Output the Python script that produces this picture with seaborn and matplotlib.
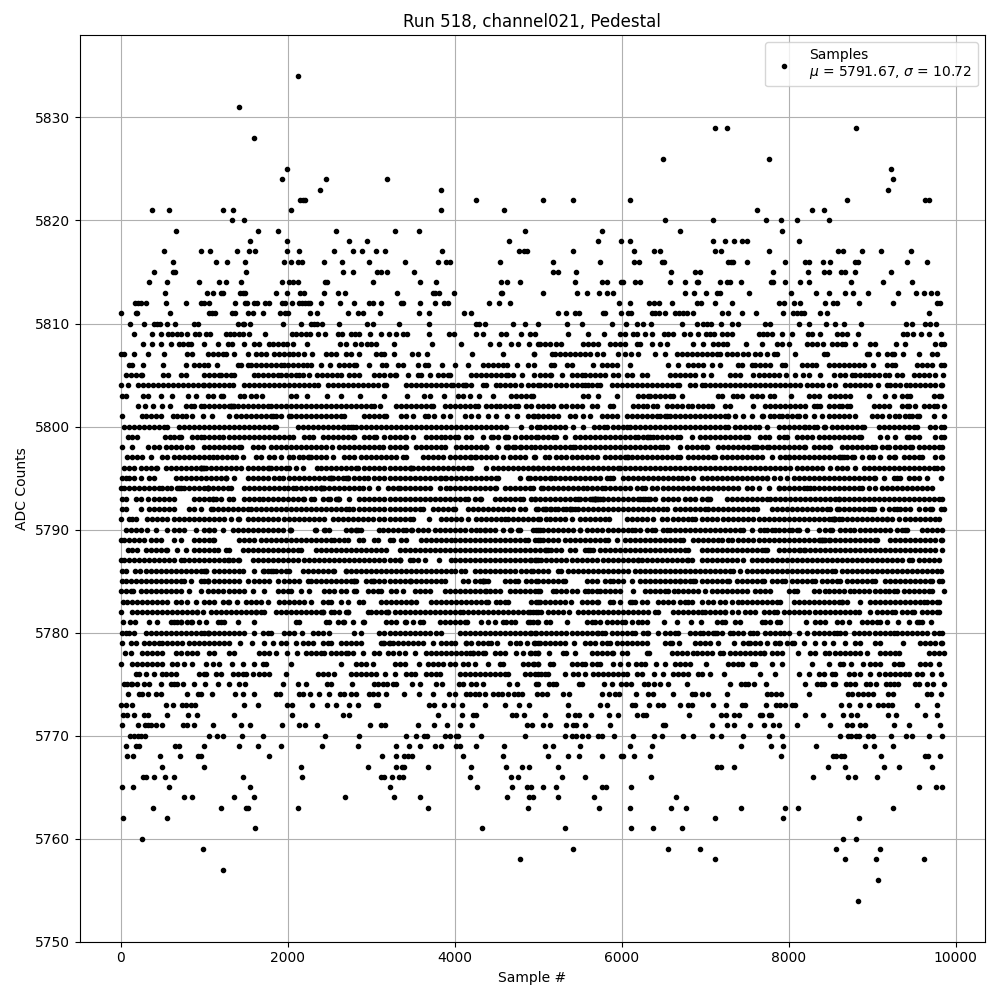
import matplotlib
matplotlib.use("Agg")
import matplotlib.pyplot as plt
import pandas as pd
import seaborn as sns

# Sample numbers, one list per ADC level
adc_5834 = [2120]
adc_5831 = [1412]
adc_5829 = [7124, 7268, 8804]
adc_5828 = [1592]
adc_5826 = [6500, 7760]
adc_5825 = [1988, 9224]
adc_5824 = [1928, 2456, 3188, 9248]
adc_5823 = [2384, 3836, 9188]
adc_5822 = [2144, 2180, 2208, 4256, 5060, 5420, 6104, 8696, 9632, 9680]
adc_5821 = [380, 584, 1220, 1340, 2036, 3836, 4592, 7616, 8276, 8420]
adc_5820 = [1328, 1472, 6524, 7100, 7724, 7904, 8096, 8480]
adc_5819 = [668, 1640, 1880, 2576, 3284, 3572, 4844, 5768, 6704, 7916]
adc_5818 = [1544, 1988, 2732, 2948, 4652, 5720, 5996, 6104, 7100, 7244, 7352, 7448, 7508, 8120]
adc_5817 = [524, 968, 1064, 1388, 1532, 1604, 1988, 2132, 2552, 2780, 2888, 3056, 3164, 3848, 4772, 4828, 4868,
            5420, 6152, 6392, 6464, 7124, 7196, 7760, 8588, 8648, 8876, 9104, 9464]
adc_5816 = [632, 1136, 1268, 1484, 1952, 2036, 2120, 2168, 2432, 2648, 2972, 3404, 3800, 3896, 3944, 4544,
            5180, 5744, 6152, 6212, 6488, 6512, 7280, 7316, 7340, 7508, 7952, 8192, 8240, 8408, 8492, 8792, 8828, 9416, 9656]
adc_5815 = [404, 632, 652, 1496, 2660, 2780, 3068, 3116, 3188, 3512, 5180, 5240, 5456, 6596, 6884, 6944, 7808, 8228,
            8420, 8480, 8624, 8672, 8792, 9224]
adc_5814 = [344, 560, 944, 1172, 1256, 1436, 1928, 2012, 2060, 2120, 2444, 2468, 3020, 3584, 3776, 4556, 4628, 4784,
            5444, 5768, 5828, 5996, 6020, 6164, 6224, 6584, 6764, 6908, 6920, 7184, 7268, 7304, 7436, 7784, 7808, 7952,
            8132, 8240, 8744, 9128, 9476]
adc_5813 = [536, 1028, 1100, 1196, 1228, 1424, 1460, 1484, 1856, 1988, 2144, 2192, 2432, 2600, 2684, 3308, 3740, 3764,
            3812, 3992, 4556, 4568, 5060, 5468, 5588, 5732, 5828, 5900, 6764, 6872, 7016, 7148, 7184, 7532, 8024, 8324,
            8480, 8672, 8768, 8948, 9308, 9524, 9620, 9704, 9776]
adc_5812 = [176, 212, 248, 308, 548, 788, 968, 992, 1052, 1364, 1484, 1508, 1592, 1628, 1724, 1772, 1928, 1964, 2048,
            2132, 2168, 2204, 2240, 2264, 2396, 2624, 2792, 2972, 3020, 3116, 3356, 3380, 3584, 3764, 3872, 3920, 4412,
            4532, 4664, 5972, 6104, 6332, 6392, 6452, 6608, 6908, 6956, 7124, 7328, 7880, 7940, 8060, 8132, 8432, 8528,
            8576, 8840, 9248, 9776, 9812]
adc_5811 = [0, 188, 200, 596, 1052, 1088, 1124, 1328, 1364, 1520, 1580, 1700, 1904, 1964, 2000, 2264, 2348, 2720, 2840,
            2900, 3104, 3572, 3692, 4112, 4196, 5240, 5336, 5444, 5492, 5780, 5804, 5996, 6080, 6116, 6368, 6404, 6452,
            6524, 6644, 6692, 6740, 6788, 6860, 7208, 7280, 7448, 7604, 7928, 8048, 8096, 8144, 8180, 8372, 8456, 9680]
adc_5810 = [116, 284, 404, 440, 476, 560, 656, 884, 932, 1400, 1460, 1472, 1544, 1940, 2156, 2276, 2312, 2348, 2408,
            2612, 2948, 3020, 3332, 3692, 4256, 4292, 4364, 4700, 4844, 5000, 5348, 5528, 5888, 6056, 6188, 6260, 6356,
            6728, 6908, 6980, 7028, 7076, 7196, 7328, 7400, 7712, 7772, 8120, 8240, 8444, 8552, 8660, 8864, 9404, 9476,
            9632, 9692, 9764]
adc_5809 = [160, 380, 488, 572, 620, 680, 728, 800, 888, 940, 1020, 1068, 1260, 1308, 1360, 1420, 1460, 1540, 1728, 2052,
            2100, 2160, 2220, 2268, 2360, 2448, 2600, 2652, 2760, 2812, 2852, 2984, 3120, 3212, 3300, 3380, 3428, 3692,
            3932, 3988, 4260, 4340, 4552, 4612, 4792, 4900, 4960, 5360, 5600, 5788, 5980, 6040, 6132, 6188, 6280, 6360,
            6508, 6560, 6620, 6752, 6820, 6920, 7008, 7060, 7108, 7200, 7260, 7320, 7640, 7688, 7740, 7800, 7920, 8040,
            8228, 8280, 8380, 8580, 8640, 8700, 8828, 9372, 9420, 9488, 9588, 9688, 9828]
adc_5808 = [272, 380, 480, 600, 700, 752, 808, 848, 992, 1160, 1280, 1332, 1472, 1600, 1660, 1772, 1830, 1880, 1940, 1990,
            2060, 2228, 2628, 2700, 2812, 2880, 2948, 3000, 3060, 3272, 3728, 4080, 4428, 4528, 4680, 4760, 4892, 5000,
            5020, 5080, 5140, 5220, 5280, 5540, 5600, 5660, 5720, 5860, 5920, 5980, 6040, 6180, 6220, 6360, 6460, 6540,
            6860, 6980, 7100, 7160, 7220, 7260, 7488, 7680, 7860, 7920, 8000, 8220, 8280, 8340, 8412, 8520, 8580, 8640,
            8680, 8800, 8980, 9040, 9292, 9400, 9760, 9820, 9860]
adc_5807 = [0, 40, 160, 332, 524, 800, 860, 1040, 1100, 1160, 1220, 1260, 1360, 1520, 1620, 1680, 1740, 1840, 1900, 1960,
            2020, 2070, 2120, 2200, 2292, 2460, 2520, 2580, 2700, 2760, 2852, 3060, 3120, 3160, 3272, 3492, 3560, 3668,
            4208, 4580, 4952, 4952, 5168, 5200, 5260, 5320, 5380, 5440, 5500, 5560, 5620, 5700, 5780, 5960, 6040, 6108,
            6200, 6400, 6520, 6660, 6720, 6780, 6840, 6900, 6960, 7020, 7080, 7140, 7180, 7260, 7320, 7380, 7460, 7520,
            7600, 7660, 7740, 7820, 7860, 8072, 8420, 8460, 8940, 8960, 9068, 9180, 9240, 9268, 9368, 9560, 9720, 9780]
adc_5806 = [100, 140, 272, 512, 780, 880, 940, 1000, 1040, 1148, 1400, 1440, 1520, 1560, 1620, 1680, 1740, 1800, 1860, 1920,
            1960, 2000, 2060, 2120, 2180, 2228, 2280, 2400, 2512, 2620, 2680, 2740, 2800, 2820, 2972, 3132, 3180, 3320,
            3380, 3560, 3640, 3680, 3848, 4004, 4160, 4340, 4400, 4460, 4520, 4580, 4628, 4748, 4880, 4952, 5188, 5160,
            5350, 5400, 5660, 5760, 5830, 5880, 5940, 6104, 6560, 6680, 6800, 6860, 6920, 6980, 7088, 7180, 7400, 7440,
            7560, 7600, 7660, 7720, 7780, 7920, 7960, 8160, 8220, 8280, 8332, 8480, 8540, 8600, 8660, 8720, 8780, 8840,
            8900, 9008, 9180, 9240, 9280, 9540, 9600, 9660, 9720, 9820, 9860]
adc_5805 = [68, 120, 180, 240, 260, 508, 568, 720, 780, 1000, 1060, 1120, 1180, 1200, 1260, 1320, 1360, 1592, 1640, 1700,
            1760, 1820, 1880, 1920, 1980, 2040, 2100, 2140, 2180, 2252, 2352, 2410, 2470, 2530, 2590, 2640, 2740, 2800,
            2860, 3040, 3100, 3160, 3220, 3280, 3300, 3440, 3560, 3600, 3700, 3800, 3860, 3920, 3940, 4200, 4260, 4320,
            4380, 4440, 4500, 4560, 4620, 4640, 4700, 4812, 4950, 5020, 5080, 5140, 5160, 5288, 5400, 5460, 5520, 5560,
            5620, 5680, 5740, 5800, 5900, 5960, 6060, 6120, 6240, 6300, 6580, 6640, 6700, 6760, 6820, 6880, 6980, 7072,
            7300, 7360, 7420, 7580, 7640, 7700, 7760, 7820, 7880, 7972, 8072, 8172, 8240, 8380, 8540, 8620, 8680, 8760,
            8800, 8860, 8920, 8960, 9020, 9080, 9160, 9200, 9300, 9360, 9500, 9560, 9620, 9680, 9760, 9848]
adc_5804 = [8, 92, 212, 268, 328, 388, 448, 508, 568, 628, 688, 748, 808, 868, 928, 988, 1000, 1060, 1060, 1120, 1180, 1240,
            1300, 1340, 1480, 1540, 1600, 1660, 1720, 1780, 1840, 1900, 1960, 2020, 2080, 2140, 2200, 2260, 2320, 2360,
            2480, 2540, 2600, 2660, 2720, 2780, 2840, 2900, 2960, 3020, 3080, 3160, 3180, 3420, 3480, 3540, 3600, 3660,
            3720, 3780, 3840, 3900, 3960, 3980, 4140, 4200, 4040, 4100, 4120, 4340, 4380, 4500, 4540, 4600, 4660, 4720,
            4800, 4880, 4940, 5000, 5020, 5080, 5140, 5220, 5280, 5340, 5400, 5460, 5520, 5560, 5600, 5640, 5700, 5740,
            5880, 5940, 6000, 6060, 6120, 6180, 6240, 6300, 6360, 6420, 6480, 6540, 6600, 6660, 6692, 6820, 6880, 6960,
            7000, 7060, 7120, 7180, 7240, 7300, 7360, 7420, 7480, 7540, 7600, 7660, 7720, 7780, 7840, 7900, 7960, 8020,
            8080, 8140, 8220, 8280, 8340, 8400, 8480, 8560, 8680, 8740, 8800, 8860, 8920, 8980, 9068, 9180, 9220, 9280,
            9340, 9412, 9460, 9520, 9580, 9640, 9700, 9760, 9820, 9840]
adc_5803 = [20, 60, 268, 332, 488, 612, 812, 908, 1040, 1100, 1200, 1228, 1428, 1480, 1560, 1620, 1692, 2040, 2100, 2228,
            2468, 2640, 2872, 3160, 3428, 3628, 3700, 3872, 4040, 4100, 4180, 4292, 4464, 4680, 4740, 4800, 4860, 4920,
            4940, 5540, 5600, 5720, 5948, 6200, 6260, 6320, 6340, 6400, 6460, 6520, 6580, 6612, 6728, 7160, 7200, 7330,
            7380, 7440, 7560, 7620, 7680, 7780, 7820, 8028, 8240, 8300, 8360, 8500, 8560, 8620, 8680, 8740, 8960, 9152,
            9260, 9360, 9420, 9460, 9748, 9800, 9820]
adc_5802 = [208, 292, 392, 500, 592, 788, 840, 880, 960, 1000, 1060, 1120, 1180, 1240, 1320, 1360, 1300, 1320, 1340, 1400,
            1460, 1520, 1580, 1640, 1700, 1760, 1800, 1860, 1920, 1980, 2040, 2100, 2160, 2220, 2280, 2340, 2400, 2460,
            2520, 2580, 2640, 2700, 2760, 2820, 2880, 2940, 3000, 3040, 3108, 3292, 3360, 3420, 3480, 3540, 3600, 3660,
            3720, 3740, 3880, 3940, 4000, 4060, 4120, 4180, 4240, 4280, 4380, 4440, 4500, 4540, 4600, 4660, 4720, 4760,
            4860, 4920, 5000, 5060, 5120, 5180, 5280, 5340, 5400, 5460, 5520, 5640, 5700, 5860, 5900, 6140, 6200, 6260,
            6300, 6380, 6420, 6540, 6600, 6660, 6720, 6800, 6840, 6920, 6980, 7040, 7080, 7240, 7300, 7572, 7720, 7780,
            7840, 7900, 7960, 8020, 8080, 8140, 8200, 8300, 8340, 8380, 8480, 8540, 8600, 8640, 8700, 8740, 9020, 9080,
            9140, 9200, 9360, 9420, 9440, 9520, 9620, 9680, 9740, 9780, 9860]
adc_5801 = [20, 260, 300, 360, 428, 488, 628, 680, 740, 780, 860, 980, 1092, 1292, 1380, 1440, 1500, 1560, 1620, 1680, 1740,
            1800, 1820, 1860, 1920, 2012, 2040, 2100, 2160, 2220, 2280, 2340, 2400, 2460, 2520, 2580, 2640, 2680, 2920,
            2980, 3040, 3100, 3160, 3180, 3360, 3420, 3500, 3640, 3680, 3752, 3860, 3940, 4120, 4200, 4280, 4400, 4500,
            4628, 4748, 4880, 4940, 5000, 4950, 5000, 5060, 5120, 5180, 5240, 5380, 5440, 5540, 5620, 5760, 5820, 5880,
            5940, 6060, 6120, 6180, 6240, 6300, 6360, 6420, 6460, 6520, 6540, 6580, 6640, 6700, 6760, 6820, 6880, 6940,
            7000, 7060, 7120, 7180, 7240, 7280, 7280, 7360, 7460, 7560, 7680, 7690, 7780, 7830, 7880, 7920, 7980, 8040,
            8100, 8120, 8200, 8300, 8400, 8480, 8540, 8600, 8660, 8720, 8790, 9000, 9060, 9120, 9200, 9280, 9320, 9400,
            9440, 9480, 9540, 9560, 9740, 9860]
adc_5800 = [40, 100, 160, 220, 280, 340, 400, 460, 520, 560, 700, 760, 820, 880, 940, 1000, 1060, 1120, 1180, 1240, 1300, 1360,
            1420, 1480, 1540, 1600, 1660, 1720, 1780, 1840, 1860, 2120, 2180, 2240, 2300, 2360, 2420, 2480, 2540, 2660,
            2720, 2680, 2600, 2780, 2760, 2820, 2880, 2940, 3000, 3060, 3120, 3180, 3240, 3300, 3360, 3420, 3480, 3540,
            3600, 3660, 3720, 3780, 3840, 3900, 3960, 4020, 4080, 4140, 4200, 4260, 4320, 4380, 4440, 4500, 4560, 4620,
            4800, 4920, 4990, 5020, 5080, 5140, 5200, 5260, 5320, 5420, 5540, 5670, 5730, 5790, 5820, 5900, 5960, 6020,
            6060, 6100, 6160, 6220, 6280, 6340, 6400, 6460, 6520, 6580, 6640, 6700, 6760, 6820, 6880, 6940, 7000, 7060,
            7120, 7180, 7240, 7280, 7360, 7420, 7480, 7540, 7600, 7640, 7740, 7880, 7940, 8000, 8060, 8120, 8180, 8240,
            8300, 8200, 8340, 8420, 8440, 8520, 8580, 8640, 8700, 8760, 8820, 8880, 8900, 9080, 9140, 9200, 9260, 9320,
            9380, 9440, 9500, 9540, 9700, 9760, 9820, 9860]
adc_5799 = [92, 140, 200, 532, 588, 640, 700, 720, 860, 920, 960, 1000, 1060, 1120, 1180, 1228, 1300, 1360, 1420, 1480, 1540,
            1600, 1660, 1720, 1780, 1840, 1900, 1960, 2020, 2060, 2200, 2260, 2300, 2420, 2480, 2540, 2600, 2660, 2720,
            2780, 2800, 2920, 2980, 3040, 3060, 3160, 3220, 3280, 3340, 3400, 3420, 3500, 3660, 3720, 3780, 3840, 3880,
            3940, 4000, 4040, 4140, 4200, 4340, 4460, 4440, 4520, 4600, 4640, 4620, 4720, 4800, 4860, 4920, 4980, 5000,
            5060, 5120, 5180, 5220, 5328, 5440, 5500, 5560, 5620, 5680, 5740, 5800, 5860, 5920, 5980, 6040, 6100, 6160,
            6200, 6260, 6300, 6320, 6340, 6380, 6420, 6480, 6540, 6600, 6660, 6700, 6848, 6940, 7000, 7060, 7120, 7180,
            7240, 7300, 7360, 7420, 7480, 7520, 7660, 7720, 7760, 7880, 7940, 7980, 8100, 8160, 8220, 8280, 8360, 8420,
            8480, 8540, 8600, 8660, 8720, 8780, 8840, 8872, 9100, 9180, 9280, 9420, 9440, 9500, 9560, 9760, 9820, 9860]
adc_5798 = [20, 132, 332, 400, 460, 540, 600, 660, 720, 800, 860, 1000, 1060, 1120, 1180, 1240, 1300, 1360, 1420, 1440,
            1590, 1650, 1700, 1800, 1860, 1920, 1980, 2040, 2100, 2160, 2220, 2280, 2340, 2400, 2460, 2528, 2620, 2680,
            2740, 2800, 2860, 2920, 2980, 3040, 3100, 3140, 3220, 3280, 3340, 3400, 3420, 3540, 3600, 3660, 3720, 3780,
            3840, 3880, 4020, 4080, 4140, 4200, 4260, 4320, 4380, 4380, 4380, 4520, 4640, 4620, 4640, 4700, 4720, 4780,
            4800, 4860, 4920, 4960, 5020, 5080, 5140, 5200, 5260, 5320, 5380, 5420, 5440, 5500, 5560, 5620, 5680, 5740,
            5800, 5860, 5920, 5980, 6040, 6100, 6160, 6220, 6280, 6340, 6400, 6460, 6500, 6548, 6700, 6780, 6840, 6900,
            6960, 7020, 7008, 7160, 7220, 7280, 7340, 7400, 7460, 7520, 7580, 7600, 7620, 7680, 7740, 7760, 7820, 7880,
            7940, 8000, 8060, 8120, 8180, 8200, 8300, 8360, 8420, 8480, 8500, 8640, 8700, 8760, 8820, 8880, 8940, 9000,
            9040, 9120, 9180, 9200, 9280, 9340, 9400, 9460, 9480, 9560, 9620, 9680, 9740, 9800, 9840]
adc_5797 = [80, 140, 200, 260, 360, 500, 560, 640, 700, 760, 820, 880, 940, 1000, 1060, 1100, 1150, 1210, 1270, 1330, 1380,
            1468, 1620, 1680, 1780, 1840, 1916, 2012, 2070, 2130, 2180, 2240, 2260, 2280, 2340, 2400, 2460, 2548, 2680,
            2740, 2800, 2880, 2940, 3000, 3060, 3120, 3180, 3240, 3300, 3380, 3420, 3620, 3680, 3740, 3800, 3860, 3940,
            4000, 4060, 4120, 4180, 4240, 4200, 4260, 4320, 4380, 4440, 4500, 4580, 4660, 4720, 4780, 4840, 4952, 4960,
            5080, 5130, 5220, 5280, 5340, 5400, 5460, 5520, 5580, 5640, 5700, 5800, 5860, 5920, 5980, 6040, 6060, 6080,
            6120, 6180, 6240, 6300, 6360, 6420, 6480, 6540, 6600, 6660, 6700, 6800, 6860, 6920, 6980, 7040, 7100, 7120,
            7200, 7260, 7320, 7380, 7440, 7500, 7560, 7620, 7680, 7800, 7900, 7960, 8000, 8000, 8060, 8120, 8180, 8240,
            8300, 8360, 8420, 8480, 8540, 8600, 8660, 8620, 8640, 8700, 8760, 8780, 8880, 8960, 9012, 9100, 9200, 9260,
            9280, 9380, 9440, 9500, 9560, 9600, 9760, 9820, 9840]
adc_5796 = [40, 100, 160, 240, 300, 360, 420, 440, 540, 600, 660, 720, 780, 840, 900, 960, 1000, 980, 960, 960, 1020, 1080,
            1140, 1200, 1260, 1320, 1380, 1440, 1520, 1580, 1640, 1700, 1760, 1780, 1800, 1860, 1920, 1980, 2020, 2100,
            2188, 2348, 2400, 2460, 2520, 2580, 2640, 2700, 2760, 2820, 2840, 2920, 2980, 3040, 3100, 3160, 3220, 3280,
            3340, 3400, 3460, 3480, 3480, 3500, 3560, 3620, 3680, 3740, 3800, 3860, 3920, 3980, 4040, 4100, 4160, 4200,
            4380, 4460, 4520, 4580, 4640, 4700, 4760, 4820, 4880, 4940, 5000, 4940, 5000, 5060, 5120, 5180, 5240, 5300,
            5360, 5420, 5480, 5540, 5600, 5660, 5720, 5780, 5840, 5900, 5960, 5980, 6040, 6100, 6160, 6220, 6280, 6340,
            6400, 6460, 6520, 6580, 6640, 6700, 6760, 6820, 6880, 6940, 7000, 7060, 7120, 7180, 7240, 7300, 7360, 7420,
            7480, 7540, 7600, 7660, 7720, 7780, 7840, 7900, 7960, 8020, 8100, 8160, 8220, 8280, 8340, 8400, 8500, 8580,
            8640, 8700, 8800, 8900, 8960, 9020, 9080, 9140, 9200, 9260, 9320, 9380, 9440, 9500, 9560, 9620, 9680, 9740,
            9780, 9840]
adc_5795 = [20, 60, 100, 160, 248, 340, 400, 660, 720, 780, 840, 900, 960, 1020, 1080, 1140, 1200, 1260, 1260, 1260, 1360,
            1520, 1580, 1640, 1700, 1760, 1840, 1900, 1940, 2020, 2080, 2140, 2200, 2260, 2320, 2380, 2440, 2500, 2520,
            2520, 2540, 2600, 2660, 2700, 2720, 2720, 2800, 2860, 2920, 2960, 3040, 3100, 3160, 3220, 3280, 3340, 3400,
            3460, 3520, 3580, 3640, 3700, 3760, 3820, 3840, 3880, 3900, 3960, 4020, 4080, 4140, 4200, 4260, 4320, 4380,
            4440, 4500, 4520, 4780, 4880, 4900, 4960, 5020, 5080, 5140, 5200, 5160, 5260, 5320, 5380, 5440, 5500, 5560,
            5620, 5680, 5740, 5820, 5860, 5900, 6020, 6080, 6140, 6200, 6260, 6320, 6380, 6440, 6500, 6560, 6620, 6680,
            6720, 6780, 6860, 6960, 7020, 7080, 7140, 7200, 7260, 7320, 7380, 7440, 7500, 7560, 7620, 7680, 7740, 7740,
            7820, 7900, 7980, 8060, 8120, 8180, 8240, 8300, 8360, 8420, 8480, 8540, 8600, 8660, 8720, 8780, 8840, 8900,
            8960, 9020, 9040, 9140, 9260, 9300, 9340, 9440, 9500, 9560, 9660, 9820]
adc_5794 = [0, 40, 100, 160, 220, 280, 340, 400, 460, 500, 560, 600, 680, 700, 720, 760, 820, 880, 940, 1000, 1040, 1040,
            1040, 1040, 1100, 1160, 1220, 1280, 1320, 1480, 1540, 1600, 1660, 1720, 1780, 1840, 1900, 1960, 2000, 2060, 2100,
            2160, 2220, 2280, 2340, 2400, 2400, 2400, 2420, 2440, 2500, 2560, 2620, 2680, 2740, 2800, 2860, 2900, 2980,
            3080, 3200, 3260, 3320, 3340, 3400, 3460, 3520, 3580, 3640, 3700, 3820, 3900, 3940, 4000, 4060, 4120, 4180,
            4240, 4300, 4360, 4420, 4480, 4500, 4600, 4660, 4720, 4780, 4840, 4900, 4940, 5040, 5060, 5120, 5180, 5240,
            5300, 5360, 5420, 5480, 5540, 5580, 5640, 5700, 5760, 5800, 5860, 5920, 5980, 6040, 6100, 6180, 6240, 6280,
            6360, 6420, 6500, 6560, 6620, 6680, 6740, 6800, 6860, 6920, 6980, 7040, 7100, 7160, 7220, 7280, 7340, 7400,
            7500, 7560, 7640, 7760, 7880, 7880, 7940, 8000, 8060, 8120, 8180, 8220, 8260, 8300, 8360, 8420, 8480, 8540,
            8600, 8660, 8720, 8780, 8840, 8880, 8960, 9040, 9120, 9180, 9240, 9300, 9360, 9420, 9480, 9540, 9600, 9660,
            9720]
adc_5793 = [20, 60, 180, 240, 328, 400, 460, 520, 580, 640, 880, 940, 1000, 1060, 1100, 1100, 1140, 1200, 1300, 1340, 1480,
            1540, 1600, 1660, 1700, 1760, 1820, 1880, 1940, 2000, 2060, 2120, 2180, 2200, 2280, 2320, 2420, 2480, 2508, 2580,
            2600, 2600, 2620, 2730, 2860, 2920, 2980, 3040, 3100, 3160, 3220, 3280, 3340, 3400, 3460, 3520, 3580, 3640,
            3700, 3760, 3820, 3880, 3940, 4000, 4060, 4120, 4160, 4240, 4300, 4320, 4480, 4540, 4600, 4660, 4720, 4780,
            4820, 4920, 4960, 4960, 5020, 5080, 5140, 5200, 5260, 5320, 5380, 5440, 5480, 5500, 5560, 5620, 5680, 5640,
            5680, 5720, 5680, 5680, 5700, 5780, 5660, 5740, 5780, 5840, 5900, 5960, 6020, 6080, 6140, 6200, 6260, 6220,
            6280, 6340, 6400, 6320, 6500, 6560, 6620, 6680, 6760, 6820, 6880, 6960, 7020, 7040, 7060, 7260, 7320, 7380,
            7440, 7500, 7560, 7620, 7680, 7740, 7780, 7840, 7900, 7960, 8020, 8080, 8140, 8200, 8260, 8320, 8380, 8440,
            8500, 8560, 8600, 8600, 8660, 8720, 8780, 8840, 8900, 8960, 9020, 9080, 9140, 9200, 9260, 9320, 9380, 9440,
            9500, 9560, 9620, 9680, 9740, 9800, 9840]
adc_5792 = [20, 60, 240, 340, 400, 460, 520, 580, 640, 820, 880, 960, 1080, 1100, 1160, 1220, 1280, 1340, 1400, 1460, 1520,
            1560, 1620, 1680, 1740, 1800, 1860, 1920, 1980, 2040, 2100, 2160, 2220, 2280, 2340, 2400, 2460, 2520, 2580,
            2640, 2700, 2740, 2780, 2860, 2920, 2980, 3040, 3100, 3160, 3220, 3280, 3340, 3400, 3460, 3520, 3580, 3620,
            3740, 3800, 3860, 3920, 3980, 4000, 4160, 4220, 4280, 4340, 4400, 4460, 4520, 4580, 4640, 4700, 4780, 4848,
            4980, 5000, 5060, 5080, 5140, 5100, 5160, 5200, 5240, 5300, 5340, 5380, 5440, 5380, 5400, 5480, 5540, 5600,
            5660, 5720, 5780, 5840, 5900, 5960, 6020, 6080, 6140, 6200, 6260, 6320, 6380, 6440, 6500, 6540, 6640, 6700,
            6760, 6820, 6880, 6940, 7000, 7040, 7100, 7160, 7220, 7280, 7340, 7400, 7460, 7520, 7580, 7620, 7800, 7860,
            7920, 7980, 8040, 8100, 8160, 8220, 8280, 8340, 8400, 8460, 8500, 8580, 8600, 8660, 8720, 8780, 8840, 8900,
            8960, 9020, 9000, 9120, 9200, 9260, 9300, 9340, 9400, 9460, 9560, 9640, 9700, 9720, 9820, 9860]
adc_5791 = [8, 100, 140, 180, 320, 380, 440, 500, 560, 640, 700, 760, 820, 880, 940, 1000, 1060, 1120, 1180, 1240, 1320,
            1400, 1420, 1520, 1580, 1640, 1700, 1760, 1820, 1880, 1960, 2020, 2080, 2140, 2200, 2260, 2320, 2380, 2440,
            2540, 2600, 2660, 2720, 2780, 2840, 2900, 2960, 3020, 3100, 3160, 3220, 3280, 3340, 3400, 3460, 3500, 3692,
            3840, 3900, 3960, 4020, 4080, 4160, 4260, 4320, 4380, 4440, 4500, 4560, 4600, 4640, 4700, 4760, 4820, 4880,
            4940, 5000, 5020, 5090, 5140, 5200, 5260, 5320, 5400, 5500, 5560, 5620, 5680, 5740, 5800, 5848, 6060, 6120,
            6180, 6240, 6300, 6380, 6480, 6540, 6620, 6680, 6740, 6800, 6840, 6880, 6960, 7020, 7080, 7140, 7220, 7280,
            7340, 7400, 7460, 7520, 7580, 7640, 7700, 7760, 7820, 7880, 7940, 8000, 8060, 8120, 8180, 8240, 8300, 8360,
            8420, 8480, 8540, 8540, 8560, 8520, 8540, 8600, 8640, 8700, 8760, 8820, 8880, 8940, 9000, 9060, 9120, 9180,
            9180, 9240, 9320, 9400, 9460, 9520, 9580, 9640, 9700, 9760, 9800]
adc_5790 = [60, 120, 180, 240, 320, 420, 560, 640, 700, 760, 900, 1000, 1060, 1060, 1120, 1220, 1340, 1400, 1460, 1520, 1580,
            1640, 1700, 1760, 1820, 1880, 1940, 2030, 2030, 2040, 2340, 2440, 2450, 2500, 2332, 2700, 2760, 2820, 2880,
            2760, 2820, 2840, 3100, 3140, 3200, 3260, 3320, 3380, 3420, 3480, 3488, 3560, 3620, 3680, 3760, 3820, 3880,
            3940, 4000, 4060, 4120, 4200, 4260, 4300, 4360, 4420, 4480, 4360, 4580, 4680, 4660, 4760, 4780, 4940, 4980,
            5000, 5020, 5060, 5120, 5180, 5240, 5300, 5360, 5420, 5500, 5500, 5580, 5640, 5700, 5760, 5840, 5900, 5960,
            6020, 6080, 6120, 6160, 6220, 6300, 6360, 6400, 6500, 6540, 6580, 6640, 6700, 6760, 6820, 6880, 6940, 7000,
            7060, 7120, 7180, 7240, 7300, 7360, 7420, 7460, 7560, 7660, 7700, 7740, 7800, 7840, 7880, 7940, 8000, 8040,
            8100, 8120, 8220, 8360, 8440, 8500, 8520, 8620, 8680, 8740, 8780, 8860, 8920, 8980, 9040, 9100, 9160, 9220,
            9300, 9360, 9400, 9420, 9600, 9660, 9720, 9780, 9840]
adc_5789 = [0, 40, 100, 160, 220, 280, 360, 420, 480, 640, 720, 880, 940, 1000, 1060, 1100, 1120, 1420, 1480, 1540, 1600,
            1680, 1740, 1800, 1860, 1920, 1980, 2040, 2100, 2160, 2220, 2280, 2340, 2400, 2460, 2520, 2560, 2620, 2680,
            2720, 2860, 2900, 3040, 3080, 3228, 3260, 3360, 3420, 3600, 3660, 3720, 3780, 3840, 3900, 3960, 4000, 4060,
            4120, 4180, 4240, 4300, 4360, 4420, 4480, 4540, 4600, 4660, 4720, 4780, 4840, 4880, 4960, 5000, 5020, 5060,
            5120, 5180, 5240, 5320, 5380, 5440, 5500, 5560, 5620, 5680, 5740, 5800, 5840, 5948, 6040, 6100, 6160, 6220,
            6280, 6340, 6400, 6460, 6520, 6580, 6640, 6700, 6740, 6860, 6920, 6980, 7040, 7100, 7160, 7200, 7280, 7320,
            7400, 7460, 7520, 7580, 7640, 7700, 7760, 7820, 7880, 7940, 8000, 8060, 8120, 8180, 8240, 8300, 8360, 8420,
            8400, 8480, 8400, 8380, 8440, 8500, 8560, 8620, 8680, 8740, 8800, 8860, 8920, 8980, 9040, 9060, 9220, 9280,
            9340, 9400, 9460, 9520, 9580, 9640, 9700, 9760, 9820, 9840]
adc_5788 = [92, 140, 200, 300, 360, 420, 480, 540, 560, 680, 780, 880, 940, 1000, 1060, 1120, 1160, 1260, 1300, 1460, 1520,
            1580, 1640, 1700, 1760, 1820, 1880, 1940, 2000, 2060, 2120, 2160, 2340, 2400, 2460, 2520, 2580, 2640, 2700,
            2760, 2820, 2880, 2940, 3000, 3060, 3120, 3180, 3340, 3400, 3460, 3520, 3580, 3640, 3700, 3760, 3820, 3880,
            3940, 4000, 4060, 4120, 4180, 4240, 4300, 4360, 4420, 4480, 4540, 4600, 4660, 4720, 4780, 4840, 4900, 4960,
            5020, 5080, 5120, 5100, 5160, 5220, 5280, 5380, 5440, 5560, 5600, 5620, 5660, 5740, 5800, 5860, 5920, 5980,
            6040, 6100, 6160, 6220, 6280, 6340, 6400, 6460, 6520, 6580, 6640, 6700, 6760, 6800, 6960, 7020, 7080, 7140,
            7200, 7260, 7320, 7380, 7440, 7500, 7560, 7620, 7680, 7740, 7720, 7880, 7940, 8000, 8060, 8120, 8180, 8140,
            8200, 8260, 8320, 8380, 8440, 8500, 8560, 8620, 8680, 8740, 8800, 8860, 8920, 8980, 9040, 9100, 9160, 9220,
            9280, 9340, 9400, 9460, 9520, 9580, 9640, 9700, 9760, 9840]
adc_5787 = [0, 40, 100, 160, 220, 280, 340, 400, 460, 520, 580, 640, 720, 760, 820, 880, 940, 1000, 1060, 1120, 1180, 1240,
            1280, 1300, 1340, 1400, 1420, 1580, 1640, 1700, 1760, 1820, 1880, 1940, 2000, 2060, 2120, 2200, 2260, 2320,
            2380, 2440, 2500, 2560, 2620, 2680, 2740, 2800, 2860, 2920, 2980, 3040, 3100, 3160, 3220, 3280, 3340, 3340,
            3340, 3460, 3500, 3560, 3640, 3808, 3960, 4000, 4060, 4120, 4180, 4240, 4300, 4360, 4420, 4480, 4540, 4600,
            4660, 4720, 4780, 4840, 4900, 4960, 5000, 4920, 4980, 5040, 5100, 5160, 5220, 5280, 5340, 5400, 5460, 5520,
            5580, 5640, 5700, 5780, 5840, 5900, 5960, 6020, 6080, 6140, 6200, 6200, 6240, 6300, 6360, 6420, 6480, 6540,
            6600, 6660, 6720, 6780, 6800, 6848, 6960, 7020, 7080, 7140, 7200, 7260, 7320, 7380, 7450, 7560, 7620, 7680,
            7740, 7800, 7860, 7920, 7980, 8040, 8100, 8160, 8220, 8280, 8340, 8400, 8460, 8520, 8580, 8640, 8700, 8760,
            8820, 8880, 8940, 9000, 9060, 9120, 9180, 9240, 9300, 9360, 9440, 9480, 9560, 9620, 9680, 9740, 9800]
adc_5786 = [20, 60, 168, 228, 300, 360, 420, 480, 540, 600, 660, 720, 780, 840, 900, 960, 1000, 1020, 1020, 1120, 1180, 1240,
            1300, 1360, 1420, 1460, 1600, 1760, 1700, 1830, 1720, 1800, 1860, 1920, 1980, 2020, 2180, 2240, 2300, 2360,
            2420, 2480, 2540, 2560, 2700, 2700, 2760, 2820, 2880, 2940, 3000, 3060, 3120, 3180, 3240, 3300, 3360, 3420,
            3480, 3540, 3600, 3660, 3720, 3780, 3840, 3900, 3960, 4000, 4080, 4120, 4240, 4300, 4360, 4420, 4480, 4540,
            4600, 4660, 4720, 4800, 4860, 4920, 4940, 5000, 5060, 5120, 5240, 5280, 5360, 5420, 5480, 5540, 5600, 5660,
            5720, 5780, 5840, 5900, 5960, 6020, 6080, 6160, 6220, 6280, 6340, 6400, 6460, 6520, 6580, 6640, 6700, 6760,
            6820, 6880, 6940, 7000, 7060, 7120, 7180, 7240, 7300, 7340, 7420, 7500, 7560, 7620, 7680, 7740, 7800, 7860,
            7920, 7980, 8040, 8100, 8160, 8220, 8280, 8340, 8400, 8460, 8520, 8560, 8640, 8700, 8760, 8820, 8880, 8940,
            9000, 9060, 9120, 9180, 9240, 9300, 9360, 9420, 9480, 9540, 9600, 9660, 9720, 9780, 9828]
adc_5785 = [20, 60, 120, 180, 240, 300, 360, 420, 480, 540, 600, 660, 720, 760, 840, 960, 1000, 1040, 1040, 1040, 1120, 1180,
            1240, 1300, 1360, 1420, 1520, 1600, 1660, 1720, 1780, 1880, 1960, 2020, 2080, 2140, 2240, 2280, 2340, 2400,
            2460, 2520, 2580, 2640, 2700, 2760, 2800, 2800, 2820, 2940, 3000, 3020, 3040, 3100, 3160, 3220, 3280, 3340,
            3400, 3460, 3460, 3480, 3540, 3600, 3660, 3720, 3780, 3840, 3880, 4100, 4160, 4240, 4300, 4340, 4340, 4360,
            4340, 4400, 4600, 4660, 4720, 4760, 4860, 4920, 4980, 5000, 5060, 5120, 5180, 5240, 5300, 5320, 5580, 5640,
            5700, 5800, 5860, 5900, 5960, 6020, 6120, 6220, 6280, 6340, 6400, 6460, 6520, 6580, 6640, 6700, 6700, 6760,
            6820, 6860, 6880, 6960, 7020, 7080, 7140, 7200, 7260, 7288, 7380, 7440, 7500, 7560, 7620, 7680, 7700, 7800,
            7860, 7920, 7960, 8040, 8100, 8160, 8220, 8280, 8320, 8400, 8460, 8520, 8580, 8620, 8700, 8760, 8820, 8880,
            8940, 9000, 9040, 9160, 9220, 9280, 9340, 9400, 9460, 9520, 9580, 9640, 9700, 9720, 9800, 9840]
adc_5784 = [0, 60, 120, 148, 240, 300, 360, 420, 480, 540, 600, 660, 720, 820, 960, 1040, 1100, 1160, 1220, 1300, 1360, 1420,
            1480, 1580, 1712, 1880, 1940, 2000, 2040, 2160, 2260, 2440, 2500, 2560, 2640, 2700, 2800, 2820, 2960, 3020,
            3080, 3120, 3240, 3300, 3380, 3520, 3580, 3640, 3700, 3880, 3940, 4000, 4060, 4120, 4180, 4240, 4300, 4360,
            4380, 4420, 4480, 4540, 4660, 4720, 4780, 4840, 4900, 4960, 5000, 5020, 5180, 5220, 5280, 5340, 5400, 5460,
            5560, 5600, 5640, 5700, 5740, 5800, 5860, 5920, 5980, 6140, 6280, 6340, 6400, 6460, 6520, 6560, 6628, 6680,
            6740, 6800, 6860, 6920, 7000, 7080, 7140, 7200, 7260, 7320, 7380, 7440, 7508, 7600, 7660, 7720, 7780, 8000,
            8060, 8100, 8300, 8360, 8440, 8480, 8540, 8600, 8660, 8740, 8780, 8840, 8900, 8960, 9040, 9100, 9160, 9200,
            9260, 9300, 9380, 9440, 9500, 9560, 9620, 9680, 9720, 9860]
adc_5783 = [32, 80, 140, 200, 260, 320, 380, 440, 500, 560, 660, 720, 800, 900, 1000, 1060, 1120, 1220, 1280, 1300, 1388, 1500,
            1560, 1620, 1680, 1760, 1900, 1960, 2020, 2080, 2140, 2200, 2280, 2420, 2480, 2520, 2640, 2720, 2860, 2900,
            3120, 3180, 3240, 3300, 3360, 3420, 3480, 3540, 3480, 3720, 3780, 3840, 3900, 3960, 4020, 4080, 4140, 4200,
            4260, 4320, 4380, 4400, 4500, 4540, 4600, 4640, 4920, 4980, 5000, 5020, 5080, 5140, 5200, 5260, 5320, 5392,
            5520, 5580, 5640, 5700, 5720, 5860, 5900, 5980, 6100, 6120, 6160, 6240, 6300, 6440, 6500, 6560, 6620, 6700,
            6760, 6800, 6840, 6960, 7040, 7100, 7180, 7240, 7320, 7400, 7440, 7500, 7560, 7620, 7680, 7740, 7800, 7860,
            7900, 8060, 8120, 8180, 8240, 8300, 8360, 8420, 8480, 8540, 8600, 8640, 8640, 8700, 8852, 8980, 9040, 9100,
            9160, 9220, 9280, 9340, 9400, 9460, 9520, 9580, 9620, 9660, 9720, 9780, 9800]
adc_5782 = [0, 140, 200, 260, 320, 380, 440, 500, 560, 620, 680, 740, 800, 860, 920, 920, 980, 1080, 1140, 1200, 1260, 1320,
            1380, 1440, 1500, 1560, 1620, 1620, 1680, 1720, 1860, 1920, 1980, 2040, 2100, 2160, 2220, 2280, 2340, 2400,
            2420, 2420, 2520, 2560, 2620, 2700, 2720, 2720, 2960, 3000, 3060, 3120, 3180, 3200, 3200, 3280, 3340, 3400,
            3460, 3520, 3580, 3640, 3700, 3760, 3820, 3880, 3940, 4000, 4060, 4100, 4160, 4220, 4280, 4340, 4400, 4460,
            4520, 4580, 4640, 4700, 4760, 4820, 4880, 4940, 5000, 4900, 4980, 5040, 5120, 5180, 5240, 5300, 5368, 5480,
            5540, 5600, 5660, 5720, 5780, 5840, 5900, 5960, 6020, 6080, 6140, 6200, 6260, 6320, 6400, 6440, 6620, 6680,
            6740, 6800, 6860, 6920, 6960, 7000, 7060, 7120, 7180, 7240, 7240, 7320, 7400, 7480, 7540, 7600, 7700, 7760,
            7820, 7860, 7940, 8000, 8060, 8120, 8180, 8240, 8320, 8380, 8440, 8500, 8560, 8620, 8680, 8740, 8800, 8840,
            8980, 9060, 9120, 9180, 9240, 9280, 9360, 9420, 9480, 9500, 9600, 9660, 9720, 9780, 9800]
adc_5781 = [28, 108, 172, 340, 440, 600, 640, 680, 720, 720, 800, 840, 860, 940, 1016, 1160, 1200, 1240, 1400, 1592, 2100, 2140,
            2460, 2500, 2600, 2660, 2680, 2780, 2900, 2920, 3180, 3240, 3300, 3400, 3420, 3500, 3580, 3620, 3820, 3880, 3940,
            4000, 4060, 4120, 4152, 4320, 4400, 4480, 4580, 4620, 4680, 4720, 4880, 4940, 5000, 4900, 4988, 5100, 5140,
            5348, 5580, 5640, 5680, 5740, 5820, 5880, 5940, 6000, 6040, 6120, 6200, 6240, 6300, 6512, 6668, 6828, 6956,
            7140, 7200, 7240, 7360, 7420, 7680, 7720, 7780, 7860, 7900, 8212, 8320, 8380, 8440, 8580, 8640, 8720, 8880,
            8940, 9000, 9060, 9100, 9180, 9316, 9440, 9540, 9560, 9600, 9708]
adc_5780 = [20, 60, 100, 160, 300, 360, 420, 480, 540, 600, 660, 720, 780, 840, 900, 960, 1000, 1040, 1040, 1060, 1120, 1180,
            1240, 1300, 1360, 1420, 1480, 1592, 1700, 1760, 1800, 1960, 2020, 2080, 2168, 2300, 2360, 2420, 2500, 2800, 2880,
            3100, 3160, 3220, 3280, 3340, 3400, 3460, 3520, 3580, 3640, 3700, 3780, 3840, 4060, 4120, 4180, 4240, 4300,
            4360, 4420, 4480, 4540, 4600, 4660, 4720, 4780, 4840, 4900, 4960, 4920, 4980, 5040, 5100, 5160, 5220, 5280,
            5340, 5400, 5460, 5520, 5580, 5640, 5700, 5720, 5760, 5800, 5880, 5940, 6000, 6060, 6120, 6160, 6260, 6300,
            6320, 6440, 6520, 6580, 6640, 6680, 6820, 6880, 6940, 6980, 7040, 7100, 7120, 7140, 7200, 7300, 7340, 7400,
            7460, 7540, 7580, 7620, 7720, 7780, 7840, 7900, 7940, 8000, 8120, 8220, 8300, 8360, 8420, 8480, 8540, 8580,
            8620, 8680, 8780, 8840, 8900, 8960, 9040, 9100, 9160, 9220, 9260, 9300, 9360, 9420, 9480, 9540, 9600, 9660,
            9740, 9800, 9840]
adc_5779 = [12, 120, 180, 280, 340, 400, 460, 500, 560, 620, 680, 740, 820, 880, 940, 1000, 1060, 1120, 1180, 1240, 1292,
            1424, 1568, 1720, 1820, 1920, 1980, 2100, 2180, 2240, 2300, 2420, 2480, 2520, 2640, 2700, 2760, 2820, 2880, 3140, 3208,
            3120, 3160, 3220, 3260, 3320, 3380, 3440, 3500, 3560, 3620, 3740, 3840, 3900, 3960, 4000, 4140, 4200, 4140,
            4280, 4340, 4400, 4440, 4508, 4660, 4740, 4780, 4872, 4952, 5000, 4960, 5020, 5080, 5140, 5200, 5260, 5320,
            5432, 5560, 5620, 5680, 5760, 5820, 5860, 5940, 6000, 6060, 6120, 6180, 6240, 6308, 6520, 6580, 6600, 6692,
            6880, 6940, 7000, 7060, 7160, 7348, 7460, 7520, 7540, 7600, 7660, 7740, 7840, 7880, 7900, 7980, 8040, 8060,
            8188, 8320, 8420, 8532, 8680, 8800, 8860, 9040, 9100, 9372, 9580, 9640, 9700, 9760, 9820, 9840]
adc_5778 = [52, 120, 260, 320, 380, 440, 500, 660, 720, 800, 860, 920, 1060, 1120, 1300, 1360, 1660, 1720, 1780, 1860, 1988,
            2108, 2220, 2280, 2340, 2400, 2440, 2520, 2580, 2640, 2700, 2720, 2788, 2900, 3040, 3100, 3200, 3260, 3328, 3408,
            3520, 3660, 3720, 3780, 3840, 3900, 3960, 4020, 4080, 4140, 4180, 4220, 4220, 4280, 4340, 4360, 4480, 4540,
            4600, 4740, 4820, 4900, 4960, 5000, 4920, 5000, 5132, 5300, 5340, 5440, 5640, 5700, 5760, 5820, 5880, 5900,
            6000, 6060, 6300, 6332, 6600, 6660, 6720, 6780, 6860, 6900, 6960, 7020, 7080, 7180, 7220, 7300, 7360, 7420,
            7480, 7540, 7600, 7660, 7700, 7700, 7800, 7860, 7916, 8108, 8252, 8320, 8440, 8480, 8560, 8620, 8680, 8740,
            8800, 8860, 8940, 9100, 9160, 9220, 9280, 9320, 9680, 9740, 9800, 9860]
adc_5777 = [8, 140, 200, 260, 320, 380, 440, 500, 620, 680, 760, 860, 1020, 1100, 1180, 1328, 1468, 1600, 1700, 1740,
            2036, 2636, 2820, 2880, 2940, 3020, 3280, 3340, 3400, 3572, 3680, 3740, 3800, 3860, 3940, 4000, 4100, 4160, 4240,
            4400, 4540, 4580, 4820, 4880, 4940, 5000, 4950, 5000, 5140, 5180, 5400, 5460, 5520, 5560, 5640, 5700, 5740,
            5900, 5980, 6080, 6170, 6230, 6280, 6408, 6520, 6640, 6700, 6760, 6820, 7012, 7280, 7340, 7400, 7440, 7560,
            7600, 7800, 7920, 8280, 8488, 8620, 8650, 8748, 8892, 8980, 9040, 9100, 9260, 9320, 9360, 9580, 9640, 9690,
            9800]
adc_5776 = [180, 220, 300, 400, 500, 540, 600, 660, 940, 1000, 1020, 1140, 1200, 1340, 1400, 1460, 1500, 1580, 1660, 1720,
            1780, 1980, 2360, 2420, 2480, 2560, 2760, 2820, 2880, 2940, 3000, 3060, 3172, 3280, 3420, 3480, 3520, 3660, 3720,
            3780, 3820, 4060, 4120, 4180, 4240, 4300, 4360, 4420, 4480, 4540, 4600, 4640, 4840, 4900, 4960, 5000, 5040,
            5080, 5120, 5320, 5420, 5480, 5560, 5660, 5720, 5780, 5840, 5900, 5960, 6020, 6060, 6180, 6240, 6388, 6492,
            6620, 6680, 6740, 6800, 6920, 6960, 7060, 7232, 7652, 7832, 8124, 8244, 8360, 8420, 8520, 8560, 8720, 8780,
            8860, 8980, 9080, 9160, 9220, 9280, 9340, 9400, 9440, 9540, 9600, 9720, 9828]
adc_5775 = [40, 80, 120, 140, 200, 284, 344, 488, 608, 644, 680, 752, 884, 1004, 1160, 1292, 1412, 1484, 1940, 2120, 2216,
            2468, 2516, 2768, 3032, 3080, 3140, 3188, 3260, 3300, 3488, 3584, 3776, 3848, 4052, 4100, 4196, 4260, 4340,
            4652, 4748, 4980, 5000, 5132, 5180, 5216, 5492, 5528, 5792, 5888, 5996, 6056, 6116, 6272, 6320, 6392, 6464,
            6560, 6788, 7304, 7436, 7484, 7520, 7592, 7732, 8192, 8336, 8384, 8420, 8528, 8552, 8684, 8732, 8792, 8924,
            8972, 9044, 9164, 9212, 9260, 9308, 9512, 9560, 9656, 9728, 9860]
adc_5774 = [92, 224, 260, 332, 428, 488, 800, 932, 968, 1088, 1364, 1460, 1592, 1856, 1904, 2132, 2180, 2264, 2372, 2492, 2624,
            2672, 2756, 2816, 2972, 3020, 3080, 3176, 3392, 3572, 3740, 3932, 4004, 4136, 4184, 4244, 4292, 4364, 4460,
            4520, 4568, 4640, 4712, 4760, 4808, 4988, 5048, 5108, 5300, 5372, 5768, 5852, 5924, 5972, 6176, 6320, 6380,
            6620, 6848, 6884, 6968, 7040, 7268, 7736, 7784, 7844, 7904, 8240, 8708, 8756, 8828, 8888, 8948, 9008, 9188,
            9248, 9656, 9704, 9824]
adc_5773 = [0, 68, 140, 548, 632, 740, 788, 848, 896, 1472, 1640, 1988, 2048, 2288, 2468, 2576, 2732, 2840, 3056, 3080, 3692,
            3752, 3872, 3984, 4088, 4364, 4604, 4772, 4892, 5360, 5744, 5828, 6128, 6164, 6332, 6440, 6500, 6704, 6800, 6848,
            7100, 7256, 7448, 7484, 7724, 7844, 7892, 7952, 8036, 8072, 8624, 8720, 8852, 8960, 9068, 9128, 9188, 9236,
            9536, 9776]
adc_5772 = [32, 80, 164, 284, 332, 560, 812, 920, 1352, 2048, 2660, 2732, 3800, 4088, 4220, 4256, 4688, 4736, 4832, 5084, 5360,
            5444, 5492, 5636, 5844, 5960, 6188, 6260, 6296, 6812, 7196, 7256, 7352, 7412, 7652, 7676, 7760, 7784, 8192,
            8408, 8648, 8744, 8816, 9188, 9284, 9632, 9776]
adc_5771 = [20, 212, 296, 332, 368, 428, 500, 752, 800, 884, 1100, 1436, 1544, 1928, 2132, 2204, 2348, 2984, 3116, 3164, 3560,
            3752, 3908, 4064, 4208, 4868, 4928, 5060, 5140, 5336, 5420, 5456, 5564, 5864, 6500, 6524, 7088, 7268, 7352, 7544,
            7700, 7808, 7880, 8096, 8492, 8696, 8756, 8852, 8912, 9260, 9440, 9812]
adc_5770 = [116, 164, 212, 248, 296, 1052, 1148, 1220, 1448, 1700, 2444, 2852, 3416, 3536, 3632, 3668, 3884, 3944, 4016, 4040,
            4316, 4844, 5324, 5408, 5456, 5528, 5600, 5720, 5768, 5912, 6140, 6392, 6488, 6740, 6860, 7088, 7196, 7460, 7760,
            7916, 8612, 8708, 8744, 8804, 8840, 8948, 9008, 9224, 9404, 9476, 9680, 9836]
adc_5769 = [68, 188, 224, 656, 704, 992, 1412, 1640, 1916, 2408, 2840, 3296, 3452, 3584, 3764, 3836, 4016, 4064, 4256, 4592,
            5084, 5180, 5504, 6104, 6368, 7436, 7784, 7928, 8324, 8912, 9020, 9248]
adc_5768 = [80, 152, 476, 716, 932, 968, 1772, 3128, 3296, 3392, 3440, 3488, 4100, 4580, 5120, 5360, 5492, 5768, 5996, 6020, 6152,
            6344, 7904, 8528, 8564, 8624, 8660, 9104, 9632, 9668, 9812]
adc_5767 = [500, 992, 2156, 2960, 3296, 3368, 3392, 3680, 4196, 4616, 4808, 4892, 5240, 7148, 7196, 7352, 8468, 8672, 9140, 9320, 9716]
adc_5766 = [272, 308, 404, 536, 644, 1460, 2168, 3116, 3152, 3248, 3332, 3380, 4184, 4676, 4760, 5288, 5564, 6356, 8288, 8708, 8792, 9056]
adc_5765 = [20, 152, 584, 1544, 3224, 4268, 4688, 4868, 4916, 5060, 5216, 5768, 5816, 6116, 9560, 9764, 9836]
adc_5764 = [764, 860, 1352, 1592, 2684, 3272, 3584, 4628, 4892, 4940, 5240, 5672, 6656]
adc_5763 = [392, 1196, 1496, 1520, 2120, 3680, 4880, 5732, 6104, 6596, 6776, 7436, 7952, 8108, 9248]
adc_5762 = [32, 560, 7124, 7928, 8840]
adc_5761 = [1604, 4328, 5324, 6116, 6380, 6728]
adc_5760 = [260, 8648, 8804]
adc_5759 = [980, 5420, 6560, 6944, 8564, 9092]
adc_5758 = [4784, 7124, 8672, 9044, 9620]
adc_5757 = [1220]
adc_5756 = [9068]
adc_5754 = [8828]

samples_by_level = {
    5834: adc_5834, 5831: adc_5831, 5829: adc_5829, 5828: adc_5828, 5826: adc_5826, 5825: adc_5825, 5824: adc_5824,
    5823: adc_5823, 5822: adc_5822, 5821: adc_5821, 5820: adc_5820, 5819: adc_5819, 5818: adc_5818, 5817: adc_5817,
    5816: adc_5816, 5815: adc_5815, 5814: adc_5814, 5813: adc_5813, 5812: adc_5812, 5811: adc_5811, 5810: adc_5810,
    5809: adc_5809, 5808: adc_5808, 5807: adc_5807, 5806: adc_5806, 5805: adc_5805, 5804: adc_5804, 5803: adc_5803,
    5802: adc_5802, 5801: adc_5801, 5800: adc_5800, 5799: adc_5799, 5798: adc_5798, 5797: adc_5797, 5796: adc_5796,
    5795: adc_5795, 5794: adc_5794, 5793: adc_5793, 5792: adc_5792, 5791: adc_5791, 5790: adc_5790, 5789: adc_5789,
    5788: adc_5788, 5787: adc_5787, 5786: adc_5786, 5785: adc_5785, 5784: adc_5784, 5783: adc_5783, 5782: adc_5782,
    5781: adc_5781, 5780: adc_5780, 5779: adc_5779, 5778: adc_5778, 5777: adc_5777, 5776: adc_5776, 5775: adc_5775,
    5774: adc_5774, 5773: adc_5773, 5772: adc_5772, 5771: adc_5771, 5770: adc_5770, 5769: adc_5769, 5768: adc_5768,
    5767: adc_5767, 5766: adc_5766, 5765: adc_5765, 5764: adc_5764, 5763: adc_5763, 5762: adc_5762, 5761: adc_5761,
    5760: adc_5760, 5759: adc_5759, 5758: adc_5758, 5757: adc_5757, 5756: adc_5756, 5754: adc_5754,
}

frame = pd.DataFrame(
    [(s, level) for level, samples in samples_by_level.items() for s in samples],
    columns=["sample", "adc"],
)

fig, ax = plt.subplots(figsize=(10, 10))
ax.grid(True)
ax.set_axisbelow(True)
sns.scatterplot(
    data=frame, x="sample", y="adc", ax=ax, marker=".", s=36, color="black",
    edgecolor="black", linewidth=1,
    label="Samples\n$\\mu$ = 5791.67, $\\sigma$ = 10.72",
)

ax.set_xlim(-493, 10353)
ax.set_ylim(5750, 5838)
ax.set_xlabel("Sample #")
ax.set_ylabel("ADC Counts")
ax.set_title("Run 518, channel021, Pedestal")
ax.legend(loc="upper right")

plt.tight_layout()
plt.subplots_adjust(top=0.965)
plt.savefig("out.png", dpi=100)
